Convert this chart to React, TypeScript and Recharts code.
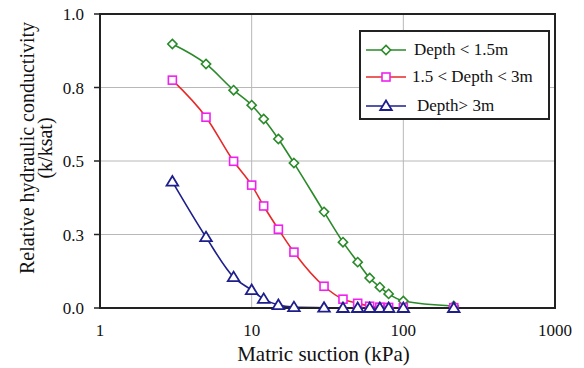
import React from "react";
import { CartesianGrid, Line, LineChart, ReferenceArea, XAxis, YAxis } from "recharts";

const suction = [3, 5, 7.6, 10, 12, 15, 19, 30, 40, 50, 60, 70, 80, 100, 215];
const shallow = [0.898, 0.83, 0.741, 0.69, 0.643, 0.575, 0.493, 0.327, 0.224, 0.156, 0.102, 0.071, 0.048, 0.024, 0.007];
const middle = [0.775, 0.649, 0.499, 0.418, 0.347, 0.268, 0.19, 0.074, 0.03, 0.016, 0.006, 0.003, 0.002, 0.001, 0.001];
const deep = [0.43, 0.241, 0.105, 0.061, 0.031, 0.01, 0.003, 0.001, 0, 0, 0, 0, 0, 0, 0];

const xTicks = [1, 10, 100, 1000];
const xMinorTicks = [2, 3, 4, 5, 6, 7, 8, 9, 20, 30, 40, 50, 60, 70, 80, 90, 200, 300, 400, 500, 600, 700, 800, 900];
const yTicks = [0, 0.25, 0.5, 0.75, 1];

const data = suction.map((s, i) => ({ s, shallow: shallow[i], middle: middle[i], deep: deep[i] }));

const FONT = "Liberation Serif, DejaVu Serif, serif";
const GREEN = "#2a8a2a";
const RED = "#e62a2a";
const MAGENTA = "#f020f0";
const NAVY = "#1e1e8c";

type Marker = "diamond" | "square" | "triangle";

function markerShape(kind: Marker, cx: number, cy: number, color: string) {
  if (kind === "diamond") {
    const r = 4.6;
    return (
      <polygon
        points={`${cx},${cy - r} ${cx + r},${cy} ${cx},${cy + r} ${cx - r},${cy}`}
        fill="#fff"
        stroke={color}
        strokeWidth={1.6}
      />
    );
  }
  if (kind === "square") {
    return <rect x={cx - 4} y={cy - 4} width={8} height={8} fill="#fff" stroke={color} strokeWidth={1.6} />;
  }
  return (
    <polygon
      points={`${cx},${cy - 5.5} ${cx + 5.8},${cy + 4} ${cx - 5.8},${cy + 4}`}
      fill="#fff"
      stroke={color}
      strokeWidth={1.8}
    />
  );
}

const makeDot = (kind: Marker, color: string) => (props: any) => {
  const { cx, cy, index } = props;
  if (cx == null || cy == null) return <g key={index} />;
  return <g key={index}>{markerShape(kind, cx, cy, color)}</g>;
};

const series = [
  { key: "shallow", name: "Depth < 1.5m", line: GREEN, markColor: GREEN, kind: "diamond" as Marker },
  { key: "middle", name: "1.5 < Depth < 3m", line: RED, markColor: MAGENTA, kind: "square" as Marker },
  { key: "deep", name: "Depth> 3m", line: NAVY, markColor: NAVY, kind: "triangle" as Marker },
];

function YTitle() {
  return (
    <g style={{ fontFamily: FONT }} fontSize={20} fill="#111">
      <text x={27} y={148} transform="rotate(-90 27 148)" textAnchor="middle" dominantBaseline="central">
        Relative hydraulic conductivity
      </text>
      <text x={45} y={148} transform="rotate(-90 45 148)" textAnchor="middle" dominantBaseline="central">
        (k/ksat)
      </text>
    </g>
  );
}

function LegendBox() {
  const rowTops = [18, 45, 74];
  return (
    <div
      style={{
        position: "absolute",
        left: 359,
        top: 30,
        width: 191,
        height: 90,
        border: "2px solid #222",
        boxSizing: "border-box",
        background: "#fff",
        fontFamily: FONT,
        fontSize: 17,
        color: "#111",
      }}
    >
      {series.map((s, i) => (
        <div key={s.key} style={{ position: "absolute", left: 5, top: rowTops[i] - 12, height: 24, display: "flex", alignItems: "center" }}>
          <svg width={40} height={24} style={{ display: "block" }}>
            <line x1={0} y1={12} x2={40} y2={12} stroke={s.line} strokeWidth={1.6} />
            {markerShape(s.kind, 20, 12, s.markColor)}
          </svg>
          <span style={{ marginLeft: i === 2 ? 11 : i === 1 ? 6 : 8, whiteSpace: "nowrap" }}>{s.name}</span>
        </div>
      ))}
    </div>
  );
}

export default function App() {
  return (
    <div style={{ position: "absolute", left: 0, top: 0, width: 584, height: 368, background: "#fff", fontFamily: FONT }}>
      <LineChart width={584} height={368} data={data} margin={{ top: 14, right: 29, left: 0, bottom: 0 }} style={{ fontFamily: FONT }}>
        <CartesianGrid stroke="#b8b8b8" strokeWidth={1} />
        <XAxis
          xAxisId="minor"
          dataKey="s"
          type="number"
          scale="log"
          domain={[1, 1000]}
          allowDataOverflow
          ticks={xMinorTicks}
          tick={false}
          axisLine={false}
          tickSize={6}
          mirror
          height={0}
          stroke="#222"
        />
        <XAxis
          dataKey="s"
          type="number"
          scale="log"
          domain={[1, 1000]}
          allowDataOverflow
          ticks={xTicks}
          tickLine={false}
          tickSize={0}
          tickMargin={16}
          height={60}
          axisLine={{ stroke: "#222", strokeWidth: 2 }}
          tick={{ fontFamily: FONT, fontSize: 17, fill: "#111" }}
          label={{
            value: "Matric suction (kPa)",
            position: "insideBottom",
            offset: 7,
            dx: -4,
            style: { fontFamily: FONT, fontSize: 21, fill: "#111" },
          }}
        />
        <YAxis
          type="number"
          domain={[0, 1]}
          ticks={yTicks}
          width={100}
          tickSize={6}
          tickMargin={10}
          tickFormatter={(v) => Number(v).toFixed(1)}
          axisLine={{ stroke: "#222", strokeWidth: 2 }}
          tickLine={{ stroke: "#222", strokeWidth: 1.5 }}
          tick={{ fontFamily: FONT, fontSize: 17, fill: "#111" }}
        />
        <ReferenceArea x1={1} x2={1000} y1={0} y2={1} fill="none" stroke="#222" strokeWidth={2} />
        {series.map((s) => (
          <Line
            key={s.key}
            type="monotone"
            dataKey={s.key}
            name={s.name}
            stroke={s.line}
            strokeWidth={1.6}
            dot={makeDot(s.kind, s.markColor)}
            activeDot={false}
            isAnimationActive={false}
          />
        ))}
        <YTitle />
      </LineChart>
      <LegendBox />
    </div>
  );
}
